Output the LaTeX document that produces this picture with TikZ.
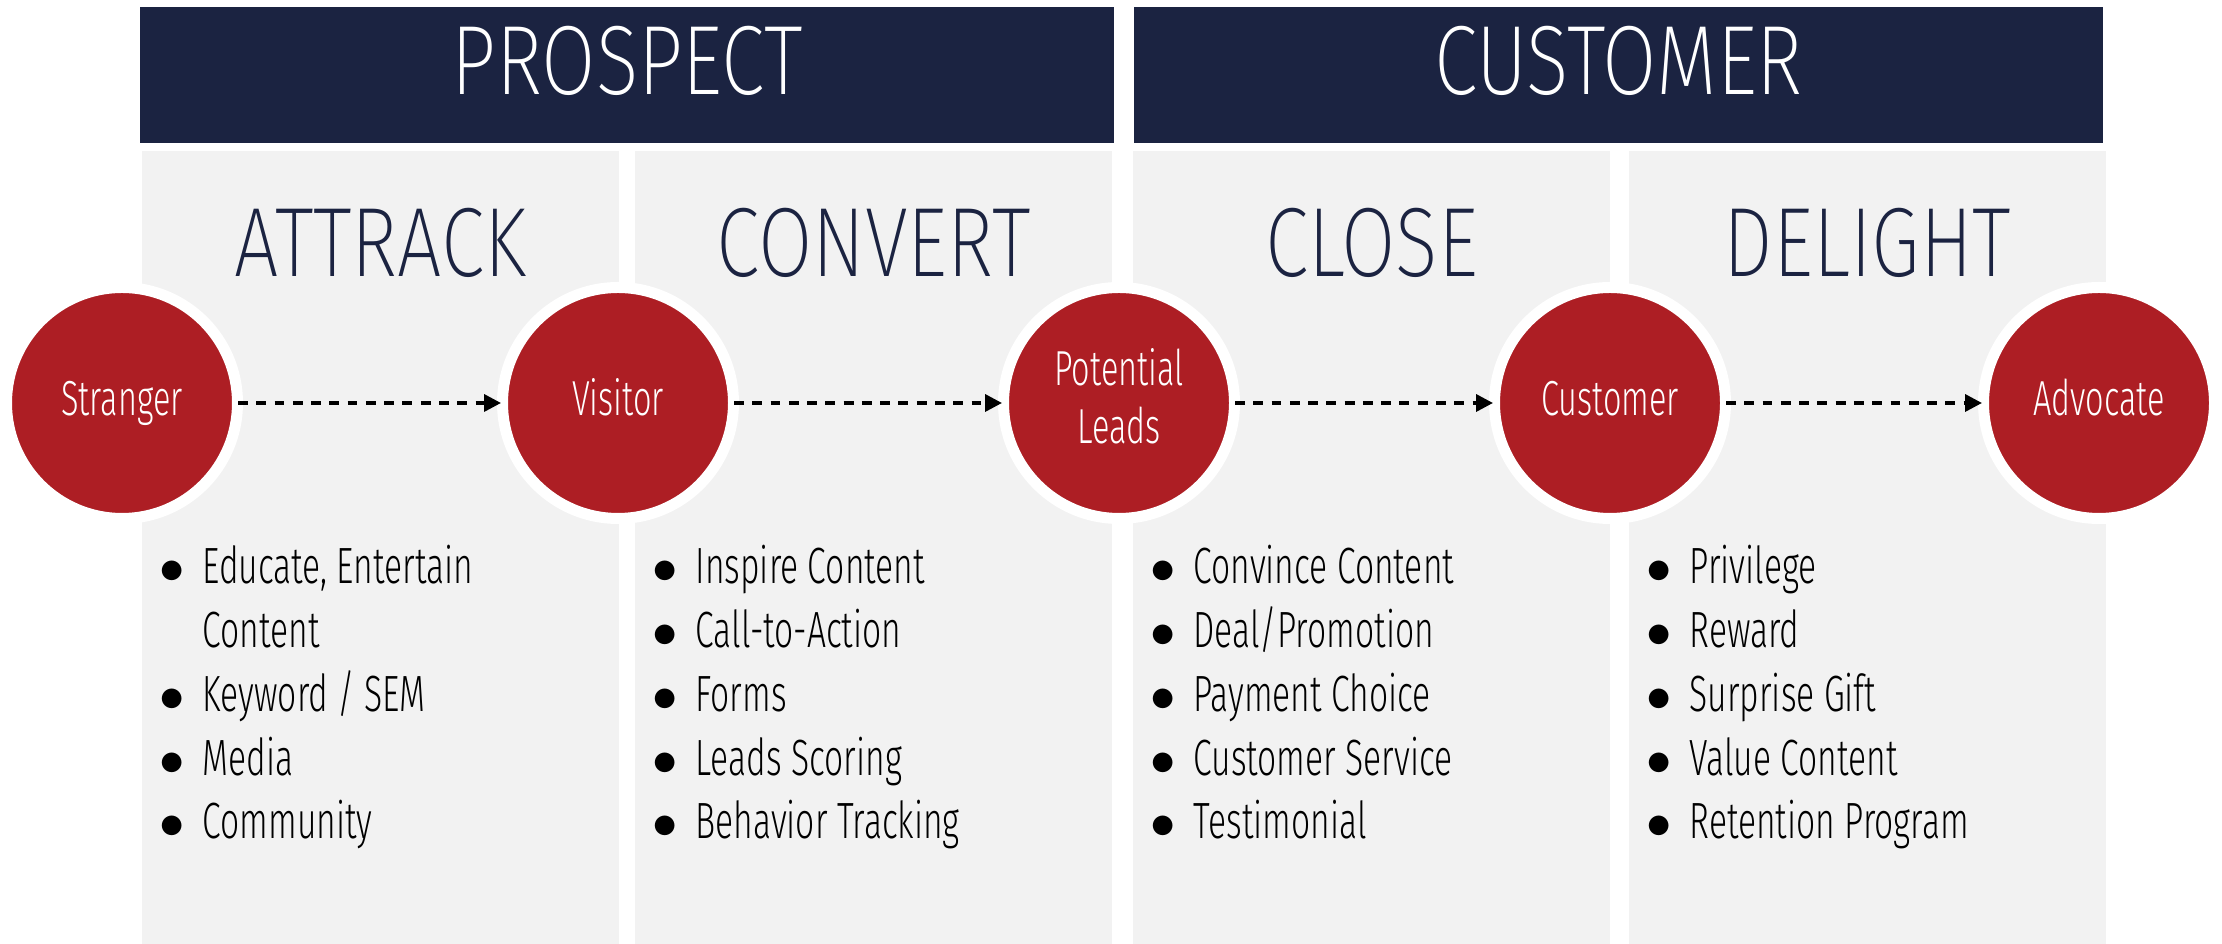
\documentclass[tikz,border=0pt]{standalone}
\usepackage{fontspec}
\setmainfont{Fira Sans}[UprightFont={* Light}, FakeStretch=0.66]
\newfontfamily\headfont{Fira Sans}[UprightFont={* ExtraLight}, FakeStretch=0.8]
\usetikzlibrary{arrows.meta}
\definecolor{navy}{RGB}{27,35,65}
\definecolor{funnelred}{RGB}{173,30,36}
\definecolor{panelgray}{RGB}{242,242,242}
\newcommand{\bitem}{\makebox[0.43cm][l]{$\bullet$}}

\begin{document}
\begin{tikzpicture}[
    stage/.style={fill=panelgray},
    band/.style={fill=navy},
    bandtext/.style={text=white, font=\headfont\fontsize{28}{30}\selectfont},
    headtext/.style={text=navy, font=\headfont\fontsize{28}{30}\selectfont},
    person/.style={circle, fill=funnelred, draw=white, line width=0.11cm, minimum size=2.31cm, inner sep=0pt, text=white, align=center, text height=7.2pt, text depth=0pt, font=\fontsize{14}{16.5}\selectfont},
    flow/.style={line width=1pt, dash pattern=on 2.8pt off 2.4pt, -{Triangle[length=4.8pt,width=4.8pt]}, shorten <=-0.05cm, shorten >=-0.04cm},
    items/.style={anchor=base west, align=left, inner sep=0pt, font=\fontsize{14.5}{18.2}\selectfont}
]
    \useasboundingbox (0,0) rectangle (22.22,9.44);
    % Balken oben
    \fill[band] (1.40,8.01) rectangle (11.14,9.37);
    \fill[band] (11.34,8.01) rectangle (21.03,9.37);
    \node[bandtext] (prospect) at (6.27,8.83) {PROSPECT};
    \node[bandtext] (custhead) at (16.185,8.83) {CUSTOMER};
    % Spalten
    \fill[stage] (1.42,0) rectangle (6.19,7.93);
    \fill[stage] (6.35,0) rectangle (11.12,7.93);
    \fill[stage] (11.33,0) rectangle (16.10,7.93);
    \fill[stage] (16.29,0) rectangle (21.06,7.93);
    \node[headtext] (attract) at (3.805,7.015) {ATTRACK};
    \node[headtext] (convert) at (8.735,7.015) {CONVERT};
    \node[headtext] (close) at (13.715,7.015) {CLOSE};
    \node[headtext] (delight) at (18.675,7.015) {DELIGHT};
    % Kreise
    \node[person] (stranger) at (1.22,5.41) {Stranger};
    \node[person] (visitor) at (6.18,5.41) {Visitor};
    \node[person, text height=22.8pt] (leads) at (11.19,5.41) {Potential\\Leads};
    \node[person] (customer) at (16.10,5.41) {Customer};
    \node[person] (advocate) at (20.99,5.41) {Advocate};
    % Pfeile
    \draw[flow] (stranger) -- (visitor);
    \draw[flow] (visitor) -- (leads);
    \draw[flow] (leads) -- (customer);
    \draw[flow] (customer) -- (advocate);
    % Listen (Basislinie der letzten Zeile)
    \node[items] (attractlist) at (1.59,1.05) {\bitem Educate, Entertain\\\hspace*{0.43cm}Content\\\bitem Keyword / SEM\\\bitem Media\\\bitem Community};
    \node[items] (convertlist) at (6.52,1.05) {\bitem Inspire Content\\\bitem Call-to-Action\\\bitem Forms\\\bitem Leads Scoring\\\bitem Behavior Tracking};
    \node[items] (closelist) at (11.50,1.05) {\bitem Convince Content\\\bitem Deal/Promotion\\\bitem Payment Choice\\\bitem Customer Service\\\bitem Testimonial};
    \node[items] (delightlist) at (16.46,1.05) {\bitem Privilege\\\bitem Reward\\\bitem Surprise Gift\\\bitem Value Content\\\bitem Retention Program};
\end{tikzpicture}
\end{document}
